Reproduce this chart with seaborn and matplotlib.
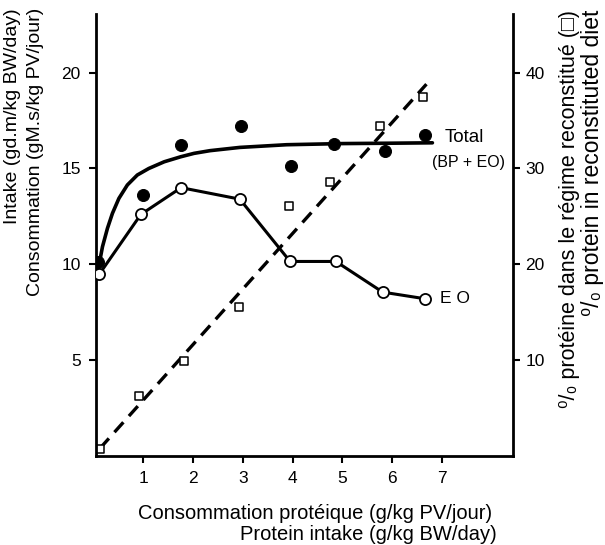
import matplotlib
matplotlib.use("Agg")
import matplotlib.pyplot as plt
import seaborn as sns

# ---- data ----
eo_x = [0.12, 0.95, 1.76, 2.94, 3.95, 4.87, 5.81, 6.67]
eo_y = [9.5, 12.6, 14.0, 13.4, 10.15, 10.15, 8.55, 8.2]

total_x = [0.09, 0.99, 1.76, 2.96, 3.96, 4.83, 5.85, 6.67]
total_y = [10.1, 13.6, 16.2, 17.2, 15.15, 16.3, 15.9, 16.75]

curve_x = [0.11, 0.18, 0.28, 0.38, 0.51, 0.68, 0.88, 1.11, 1.42, 1.75, 2.02,
           2.34, 2.94, 3.88, 5.00, 6.00, 6.81]
curve_y = [9.96, 10.92, 11.88, 12.66, 13.44, 14.14, 14.66, 15.0, 15.35, 15.61,
           15.79, 15.93, 16.1, 16.24, 16.3, 16.32, 16.34]

sq_x = [0.13, 0.91, 1.82, 2.92, 3.93, 4.76, 5.75, 6.62]
sq_y = [0.7, 6.3, 9.9, 15.5, 26.1, 28.6, 34.4, 37.5]

dash_x = [0.13, 6.69]
dash_y = [0.8, 38.8]

x_ticks = [1, 2, 3, 4, 5, 6, 7]
left_ticks = [5, 10, 15, 20]
right_ticks = [10, 20, 30, 40]

sns.set_theme(style="ticks")
plt.rcParams['font.family'] = ['Liberation Sans', 'DejaVu Sans']
plt.rcParams['text.color'] = 'black'
plt.rcParams['axes.labelcolor'] = 'black'
plt.rcParams['xtick.color'] = 'black'
plt.rcParams['ytick.color'] = 'black'

fig = plt.figure(figsize=(6.05, 5.45), dpi=100)
ax = fig.add_axes([0.1587, 0.1633, 0.848 - 0.1587, 0.9743 - 0.1633])
ax2 = ax.twinx()

# Total fitted curve
sns.lineplot(x=curve_x, y=curve_y, ax=ax, color="black", lw=2.6, sort=True,
             estimator=None, zorder=3)
# Total points
sns.scatterplot(x=total_x, y=total_y, ax=ax, color="black", s=75,
                edgecolor="black", zorder=4)
# EO line with open circles
sns.lineplot(x=eo_x, y=eo_y, ax=ax, color="black", lw=2.2, marker="o",
             markersize=8, markerfacecolor="white", markeredgecolor="black",
             markeredgewidth=1.3, estimator=None, zorder=5)

# protein % line and squares
sns.lineplot(x=dash_x, y=dash_y, ax=ax2, color="black", lw=2.4,
             estimator=None, zorder=2)
ax2.lines[-1].set_dashes([4, 2.5])
sns.scatterplot(x=sq_x, y=sq_y, ax=ax2, marker="s", s=40, facecolor="white",
                edgecolor="black", linewidth=1.1, zorder=3)

ax.set_xlim(0.05, 8.43)
ax.set_ylim(0, 23.06)
ax2.set_ylim(0, 46.12)

ax.set_xticks(x_ticks)
ax.set_yticks(left_ticks)
ax2.set_yticks(right_ticks)
ax.tick_params(axis="both", direction="out", length=5, width=1.5, labelsize=12.5,
               colors="black", pad=6)
ax2.tick_params(axis="y", direction="out", length=5, width=1.5, labelsize=12.5,
                colors="black", pad=4)

for a in (ax, ax2):
    a.spines["top"].set_visible(False)
    for s in ("left", "right", "bottom"):
        a.spines[s].set_linewidth(2)
        a.spines[s].set_color("black")
ax.spines["right"].set_visible(False)
ax2.spines["left"].set_visible(False)
ax2.spines["bottom"].set_visible(False)
ax.set_zorder(ax2.get_zorder() + 1)
ax.patch.set_visible(False)

ax.set_xlabel("")
ax.set_ylabel("")
ax2.set_ylabel("")

# annotations
ax.text(7.06, 16.6, "Total", fontsize=13.5, va="center", ha="left")
ax.text(6.8, 15.3, "(BP + EO)", fontsize=11.5, va="center", ha="left")
ax.text(6.96, 8.2, "E O", fontsize=12.5, va="center", ha="left")

# axis titles
fig.text(0.813, 0.057, "Consommation protéique (g/kg PV/jour)", fontsize=14.5,
         ha="right", va="center")
fig.text(0.821, 0.020, "Protein intake (g/kg BW/day)", fontsize=14.5,
         ha="right", va="center")
fig.text(0.020, 0.985, "Intake (gd.m/kg BW/day)", fontsize=14, rotation=90,
         ha="center", va="top")
fig.text(0.059, 0.985, "Consommation (gM.s/kg PV/jour)", fontsize=14,
         rotation=90, ha="center", va="top")
fig.text(0.941, 0.982, "⁰/₀ protéine dans le régime reconstitué (□)",
         fontsize=15.5, rotation=90, ha="center", va="top")
fig.text(0.979, 0.982, "⁰/₀ protein in reconstituted diet", fontsize=16.5,
         rotation=90, ha="center", va="top")

fig.savefig("out.png", dpi=100)
